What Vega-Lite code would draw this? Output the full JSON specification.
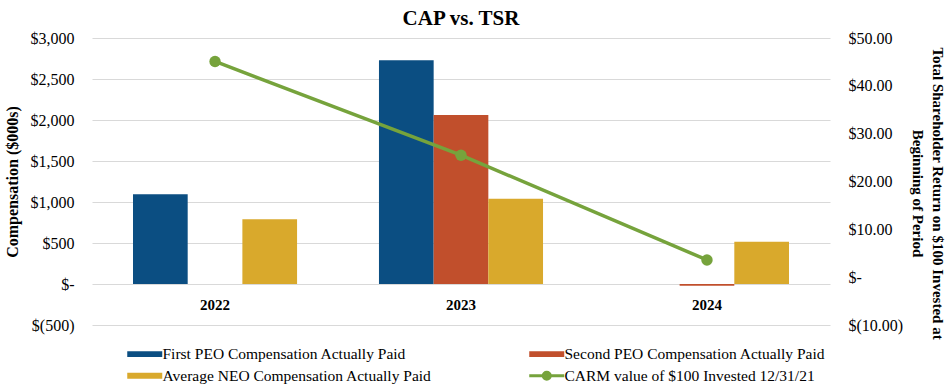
{
  "$schema": "https://vega.github.io/schema/vega-lite/v6.json",
  "autosize": "none",
  "width": 738,
  "height": 287,
  "padding": {"left": 92, "top": 38, "right": 118, "bottom": 59},
  "background": "white",
  "title": {"text": "CAP vs. TSR", "font": "Liberation Serif", "fontSize": 21, "fontWeight": "bold", "color": "#000000", "anchor": "middle", "offset": 1},
  "config": {
    "view": {"stroke": null},
    "font": "Liberation Serif",
    "axis": {"labelFont": "Liberation Serif", "titleFont": "Liberation Serif", "labelColor": "#000000", "titleColor": "#000000"}
  },
  "datasets": {
    "bars": [
      {"year": "2022", "series": "First PEO Compensation Actually Paid", "value": 1095},
      {"year": "2022", "series": "Average NEO Compensation Actually Paid", "value": 790},
      {"year": "2023", "series": "First PEO Compensation Actually Paid", "value": 2730},
      {"year": "2023", "series": "Second PEO Compensation Actually Paid", "value": 2060},
      {"year": "2023", "series": "Average NEO Compensation Actually Paid", "value": 1040},
      {"year": "2024", "series": "Second PEO Compensation Actually Paid", "value": -20},
      {"year": "2024", "series": "Average NEO Compensation Actually Paid", "value": 515}
    ],
    "tsr": [
      {"year": "2022", "series": "CARM value of $100 Invested 12/31/21", "tsr": 45.1},
      {"year": "2023", "series": "CARM value of $100 Invested 12/31/21", "tsr": 25.5},
      {"year": "2024", "series": "CARM value of $100 Invested 12/31/21", "tsr": 3.6}
    ]
  },
  "encoding": {
    "x": {
      "field": "year", "type": "nominal",
      "scale": {"domain": ["2022", "2023", "2024"], "paddingInner": 0.333, "paddingOuter": 0.1667},
      "axis": {"title": null, "labelAngle": 0, "domain": false, "ticks": false, "offset": -41, "labelPadding": 13, "labelFontSize": 15, "labelFontWeight": "bold", "grid": false}
    }
  },
  "layer": [
    {
      "data": {"name": "bars"},
      "mark": {"type": "bar"},
      "encoding": {
        "xOffset": {"field": "series", "type": "nominal", "scale": {"domain": ["First PEO Compensation Actually Paid", "Second PEO Compensation Actually Paid", "Average NEO Compensation Actually Paid"]}},
        "y": {
          "field": "value", "type": "quantitative",
          "scale": {"domain": [-500, 3000], "nice": false, "zero": false},
          "axis": {
            "title": "Compensation ($000s)", "titleFontSize": 16, "titleFontWeight": "bold", "titlePadding": 10,
            "values": [-500, 0, 500, 1000, 1500, 2000, 2500, 3000],
            "labelExpr": "datum.value == 0 ? '$-' : (datum.value < 0 ? '$(' + format(-datum.value, ',') + ')' : '$' + format(datum.value, ','))",
            "labelFontSize": 16, "labelPadding": 18, "domain": false, "ticks": false,
            "grid": true, "gridColor": "#d9d9d9", "gridWidth": 1
          }
        },
        "color": {
          "field": "series", "type": "nominal",
          "scale": {
            "domain": ["First PEO Compensation Actually Paid", "Second PEO Compensation Actually Paid", "Average NEO Compensation Actually Paid", "CARM value of $100 Invested 12/31/21"],
            "range": ["#0b4e82", "#c14f2c", "#d9a92c", "#76a33c"]
          },
          "legend": {
            "title": null, "orient": "none", "legendX": 45, "legendY": 308, "direction": "horizontal", "columns": 2,
            "columnPadding": 91, "rowPadding": 3, "padding": 0,
            "labelFont": "Liberation Serif", "labelFontSize": 15.5, "labelColor": "#000000", "labelLimit": 400, "labelOffset": 10,
            "symbolSize": 1225, "symbolStrokeWidth": 0,
            "encode": {
              "symbols": {
                "update": {
                  "shape": {"signal": "datum.value == 'CARM value of $100 Invested 12/31/21' ? 'M-1,0H1M-0.2,0A0.2,0.2,0,1,1,0.2,0A0.2,0.2,0,1,1,-0.2,0' : 'M-1,-0.17H1V0.17H-1Z'"},
                  "fill": {"scale": "color", "field": "value"},
                  "stroke": {"scale": "color", "field": "value"},
                  "strokeWidth": {"signal": "datum.value == 'CARM value of $100 Invested 12/31/21' ? 3 : 0"},
                  "opacity": {"value": 1}
                }
              }
            }
          }
        }
      }
    },
    {
      "data": {"name": "tsr"},
      "mark": {"type": "line", "strokeWidth": 3.5, "point": {"filled": true, "size": 130, "opacity": 1}},
      "encoding": {
        "y": {
          "field": "tsr", "type": "quantitative",
          "scale": {"domain": [-10, 50], "nice": false, "zero": false},
          "axis": {
            "orient": "right",
            "title": ["Total Shareholder Return on $100 Invested at", "Beginning of Period"],
            "titleFontSize": 15, "titleFontWeight": "bold", "titleAngle": 90, "titlePadding": 7, "titleLineHeight": 20, "titleY": 155,
            "values": [-10, 0, 10, 20, 30, 40, 50],
            "labelExpr": "datum.value == 0 ? '$-' : (datum.value < 0 ? '$(' + format(-datum.value, '.2f') + ')' : '$' + format(datum.value, '.2f'))",
            "labelFontSize": 16, "labelPadding": 18, "domain": false, "ticks": false, "grid": false
          }
        },
        "color": {"field": "series", "type": "nominal"}
      }
    }
  ],
  "resolve": {"scale": {"y": "independent"}}
}
